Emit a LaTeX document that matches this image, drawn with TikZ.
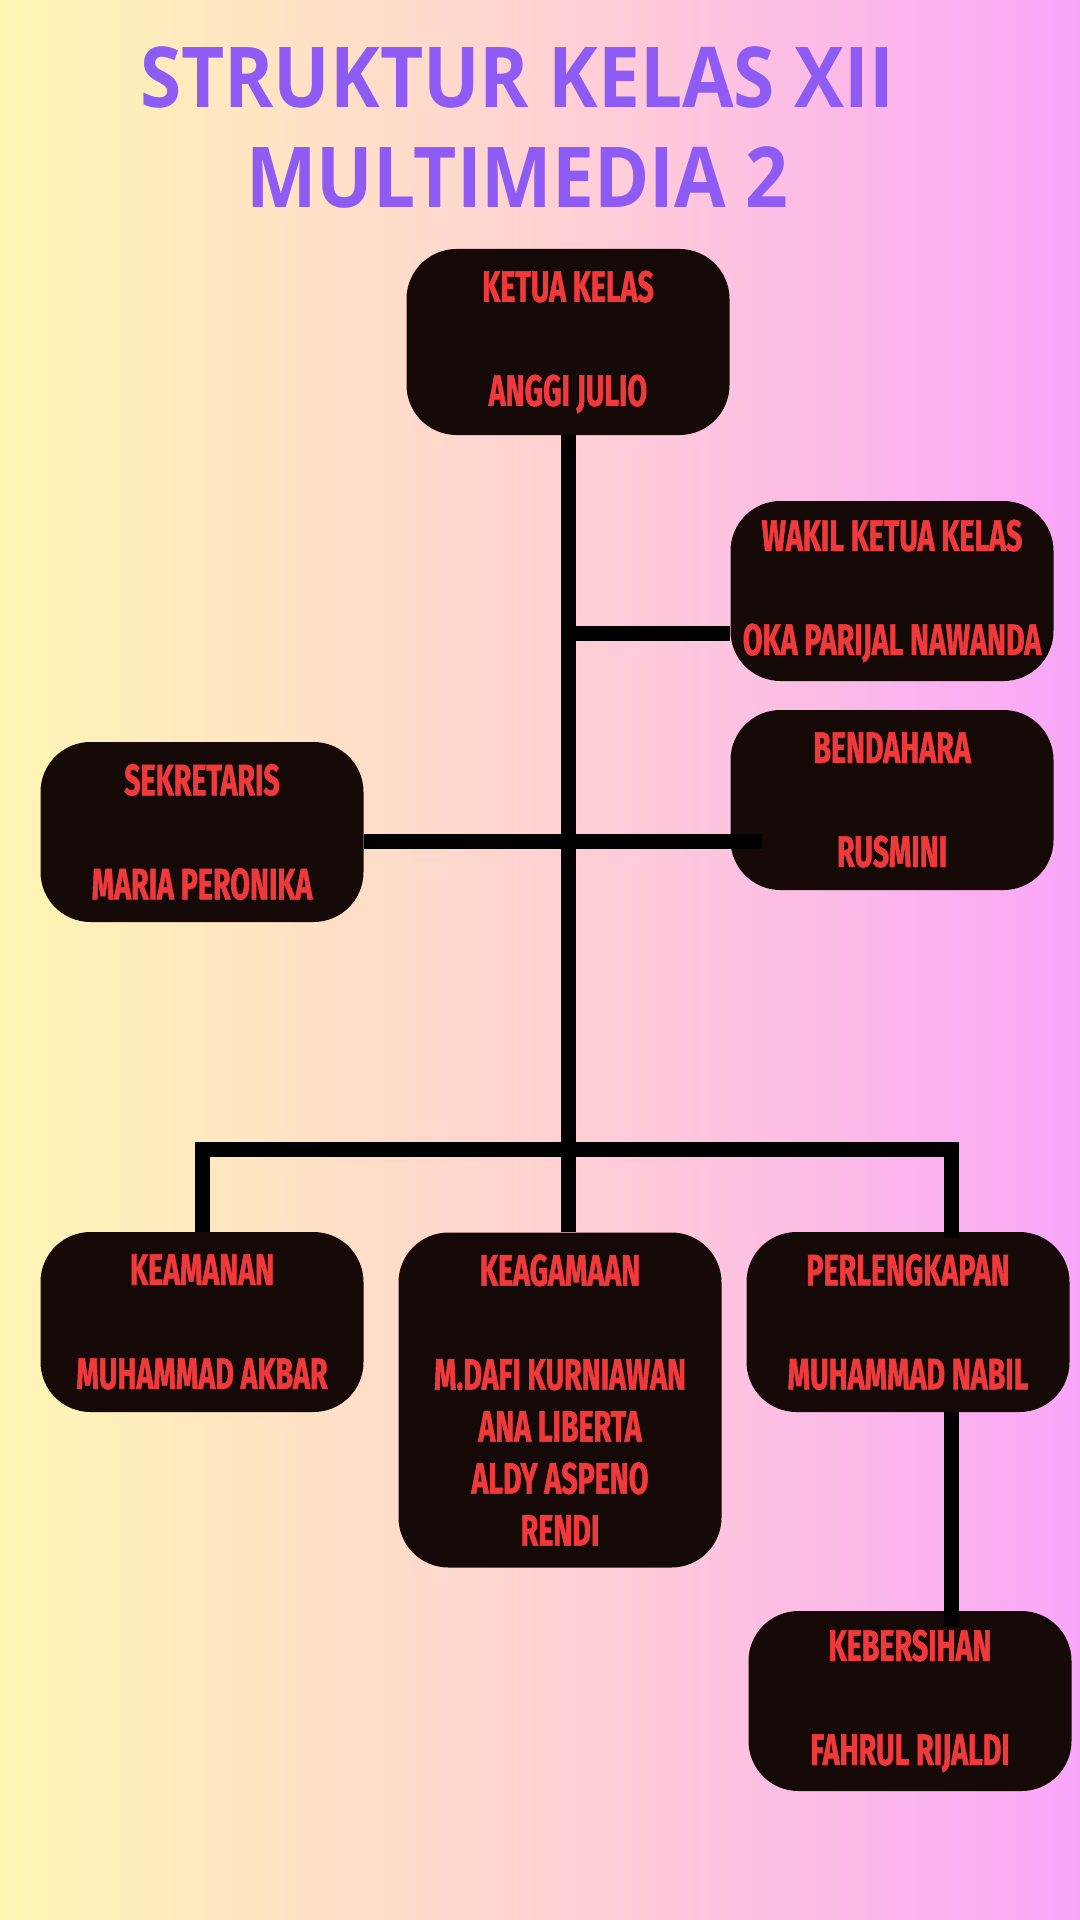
\documentclass[tikz,border=0pt]{standalone}
\usepackage{fontspec}
\newfontfamily\titlefont{Open Sans}[FakeStretch=0.89]
\newfontfamily\postfont{Fira Sans}[FakeStretch=0.65, BoldFeatures={FakeBold=1.2}]
\definecolor{titleviolet}{HTML}{8E5BF5}
\definecolor{postred}{HTML}{F0393B}
\definecolor{boxdark}{HTML}{150A07}
\definecolor{bgyellow}{HTML}{FFF6B4}
\definecolor{bgpink}{HTML}{FFD2D2}
\definecolor{bgviolet}{HTML}{F9A6F9}
\begin{document}
\begin{tikzpicture}[x=0.5pt,y=-0.5pt]
\tikzset{ post/.style={fill=boxdark, rounded corners=25pt, minimum width=161.5pt,
    minimum height=90pt, inner sep=0pt, align=center, text=postred,
    font=\postfont\bfseries\fontsize{22}{26}\selectfont},
  bar/.style={line width=7.5pt, line join=miter, line cap=butt} }

\shade [left color=bgyellow, right color=bgviolet, middle color=bgpink] (0,0) rectangle (1080,1920);
\useasboundingbox (0,0) rectangle (1080,1920);

\node [align=center, text=titleviolet, font=\titlefont\bfseries\fontsize{42}{50}\selectfont] (judul) at (517,127)
  {STRUKTUR KELAS XII\\MULTIMEDIA 2};

\node [post, minimum height=93pt] (ketua) at (568,342) {KETUA KELAS\\[26pt]ANGGI JULIO};
\node [post] (wakil)        at (892,591)  {WAKIL KETUA KELAS\\[26pt]OKA PARIJAL NAWANDA};
\node [post] (bendahara)    at (892,800)  {BENDAHARA\\[26pt]RUSMINI};
\node [post] (sekretaris)   at (202,832)  {SEKRETARIS\\[26pt]MARIA PERONIKA};
\node [post] (keamanan)     at (202,1322) {KEAMANAN\\[26pt]MUHAMMAD AKBAR};
\node [post, minimum height=167.5pt] (keagamaan) at (560,1400)
  {KEAGAMAAN\\[26pt]M.DAFI KURNIAWAN\\ANA LIBERTA\\ALDY ASPENO\\RENDI};
\node [post] (perlengkapan) at (908,1322) {PERLENGKAPAN\\[26pt]MUHAMMAD NABIL};
\node [post] (kebersihan)   at (910,1701) {KEBERSIHAN\\[26pt]FAHRUL RIJALDI};

%\draw [lightgray, dashed](0,0) grid (1080,1920);

\coordinate (cWakil) at (567,633);
\coordinate (cSek)   at (567,841);
\coordinate (cBawah) at (567,1149);
\coordinate (cKanan) at (951,1149);

\draw [bar] (ketua.south) -- (ketua.south |- keagamaan.north);
\draw [bar] (cWakil) -- (wakil.west |- cWakil);
\draw [bar] (sekretaris.east |- cSek) -- ([xshift=16pt]bendahara.west |- cSek);
\draw [bar] (keamanan.north) -- (keamanan.north |- cBawah) -- (cKanan) -- ([yshift=-3pt]cKanan |- perlengkapan.north);
\draw [bar] (cKanan |- perlengkapan.south) -- ([yshift=-8pt]cKanan |- kebersihan.north);

\end{tikzpicture}
\end{document}
